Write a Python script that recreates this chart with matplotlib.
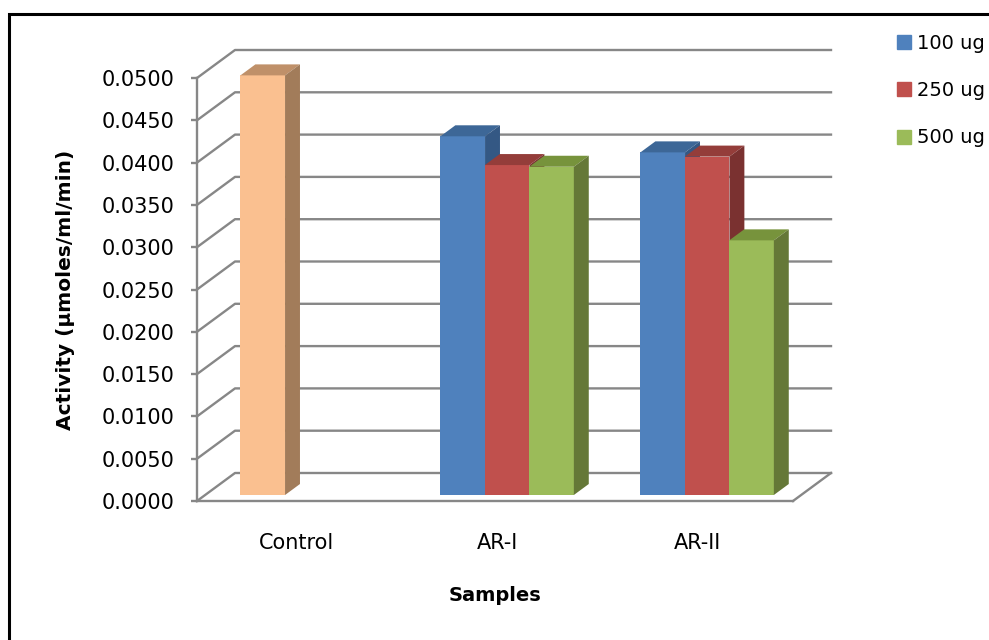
import numpy as np
import matplotlib.pyplot as plt
from matplotlib.patches import Patch, Rectangle

# data
categories = ["Control", "AR-I", "AR-II"]
series_names = ["100 ug", "250 ug", "500 ug"]
ug100 = [0.0496, 0.0424, 0.0405]
ug250 = [np.nan, 0.0390, 0.0400]
ug500 = [np.nan, 0.0388, 0.0301]
yticks = np.arange(0, 0.0501, 0.005)

# Excel 2007 style colours: front, top, side
front = ["#4F81BD", "#C0504D", "#9BBB59"]
top = ["#3D6797", "#943D3A", "#77933C"]
side = ["#345884", "#7A3130", "#657837"]
ctrl = ("#FAC090", "#BF9069", "#A27C5A")
grid = "#878787"

W, H = 989, 640
fig = plt.figure(figsize=(W / 100, H / 100), dpi=100)
plt.rcParams['font.family'] = 'DejaVu Sans'

# front plane of the fake 3d box, in pixels
x0, x1, y0, y1 = 197, 793, 501, 78
xmin, xmax = -0.5, 2.48
ax = fig.add_axes([x0 / W, 1 - y0 / H, (x1 - x0) / W, (y0 - y1) / H])
ax.set_xlim(xmin, xmax)
ax.set_ylim(0, 0.05)

# depth of the box converted to data units
px_x = (x1 - x0) / (xmax - xmin)
px_y = (y0 - y1) / 0.05
dep_x, dep_y = 38 / px_x, 28 / px_y

# back wall gridlines + side wall diagonals
for v in yticks:
    ax.plot([xmin, xmin + dep_x, xmax + dep_x], [v, v + dep_y, v + dep_y],
            color=grid, lw=1.7, clip_on=False, zorder=1)
ax.plot([xmax, xmax + dep_x], [0, dep_y], color=grid, lw=1.7, clip_on=False, zorder=1)

# bars
width = 0.223
offsets = [-0.222, 0.0, 0.222]
f0, fd = 6 / 28, 11 / 28
dx, dy = fd * dep_x, fd * dep_y
for s, vals in enumerate([ug100, ug250, ug500]):
    xs = np.arange(len(categories)) + offsets[s] + f0 * dep_x + 0.01
    fcol = [front[s]] * len(categories)
    tcol = [top[s]] * len(categories)
    scol = [side[s]] * len(categories)
    if s == 0:
        fcol[0], tcol[0], scol[0] = ctrl
    bars = ax.bar(xs, vals, width, bottom=f0 * dep_y, color=fcol,
                  zorder=3 + s, clip_on=False)
    for i, b in enumerate(bars):
        if np.isnan(vals[i]):
            continue
        xl, xr = b.get_x(), b.get_x() + b.get_width()
        yb, yt = b.get_y(), b.get_y() + b.get_height()
        ax.fill([xl, xr, xr + dx, xl + dx], [yt, yt, yt + dy, yt + dy],
                color=tcol[i], zorder=3 + s, clip_on=False, lw=0)
        ax.fill([xr, xr, xr + dx, xr + dx], [yb, yt, yt + dy, yb + dy],
                color=scol[i], zorder=3 + s, clip_on=False, lw=0)

# axes styling
for sp in ["top", "right"]:
    ax.spines[sp].set_visible(False)
for sp in ["left", "bottom"]:
    ax.spines[sp].set_color(grid)
    ax.spines[sp].set_linewidth(1.7)
ax.set_yticks(yticks)
ax.set_yticklabels([f"{v:.4f}" for v in yticks])
ax.tick_params(axis='y', length=4.5, width=1.7, color=grid, pad=12, labelsize=15)
ax.set_xticks(range(len(categories)))
ax.set_xticklabels(categories)
ax.tick_params(axis='x', length=0, pad=23, labelsize=15)

ax.set_ylabel("Activity (µmoles/ml/min)", fontsize=14.5, fontweight='bold')
ax.yaxis.set_label_coords(-0.205, 0.5)
ax.set_xlabel("Samples", fontsize=14, fontweight='bold')
ax.xaxis.set_label_coords(0.5, -0.2)

handles = [Patch(color=c) for c in front]
fig.legend(handles, series_names, loc='upper left', bbox_to_anchor=(897 / W, 1 - 34 / H),
           frameon=False, fontsize=14, handlelength=0.72, handleheight=0.72,
           handletextpad=0.3, labelspacing=1.45, borderpad=0, borderaxespad=0)

# chart border (cut by the image edge on right and bottom)
fig.add_artist(Rectangle((9 / W, -0.1), 1.2, 1.1 - 14 / H, transform=fig.transFigure,
                         fill=False, edgecolor='black', lw=2.2, clip_on=False))

fig.savefig("out.png", dpi=100)
